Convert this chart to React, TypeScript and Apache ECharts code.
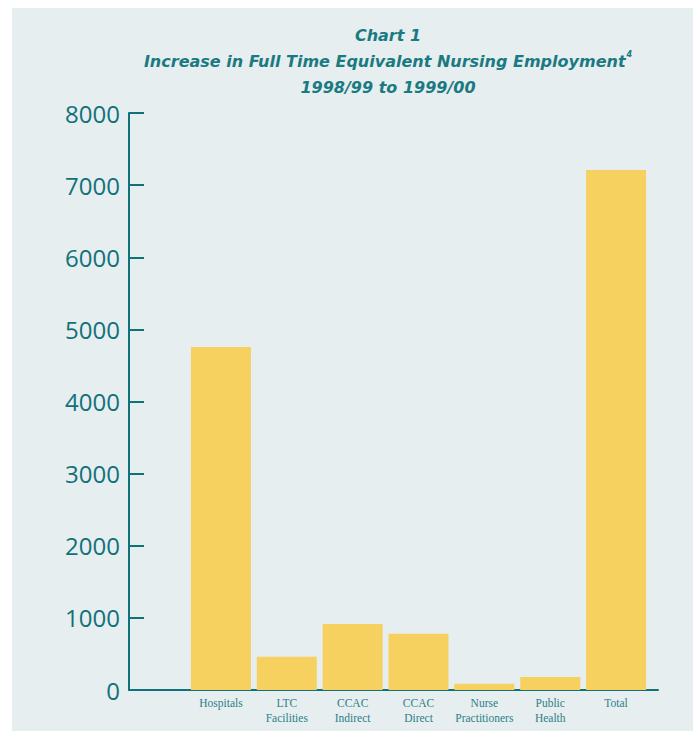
import React, { useEffect, useRef } from "react";
import * as echarts from "echarts";

// Increase in FTE nursing employment by sector, 1998/99 to 1999/00
const categories = [
  "Hospitals",
  "LTC\nFacilities",
  "CCAC\nIndirect",
  "CCAC\nDirect",
  "Nurse\nPractitioners",
  "Public\nHealth",
  "Total",
];
const increases = [4755, 460, 915, 780, 85, 180, 7210];
const yTicks = { min: 0, max: 8000, interval: 1000 };

const TEAL = "#11717a";
const LABEL_TEAL = "#2d8089";
const BAR = "#f6d160";
const PANEL = "#e6eef0";

export default function App() {
  const ref = useRef<HTMLDivElement>(null);

  useEffect(() => {
    if (!ref.current) return;
    const chart = echarts.init(ref.current, undefined, { renderer: "svg" });
    const titleText = {
      fontFamily: "DejaVu Sans",
      fontStyle: "italic",
      fontWeight: "bold",
      fontSize: 16,
      fill: "#1b7a81",
      lineHeight: 26,
    };
    chart.setOption({
      animation: false,
      backgroundColor: PANEL,
      graphic: [
        {
          type: "text",
          x: 376,
          y: 14,
          style: {
            text:
              "{t|Chart 1}\n{t|Increase in Full Time Equivalent Nursing Employment}{sup|4}\n{t|1998/99 to 1999/00}",
            align: "center",
            verticalAlign: "top",
            rich: {
              t: titleText,
              sup: {
                ...titleText,
                fontSize: 8,
                verticalAlign: "top",
                padding: [2, 0, 0, 1],
              },
            },
          },
        },
      ],
      grid: [
        // frame grid carrying the two axis lines
        { left: 117, right: 35, top: 105, bottom: 41 },
        // bar grid
        { left: 176, right: 44, top: 105, bottom: 41 },
      ],
      xAxis: [
        {
          type: "value",
          gridIndex: 0,
          min: 0,
          max: 1,
          axisLine: { show: true, onZero: false, lineStyle: { color: TEAL, width: 2 } },
          axisTick: { show: false },
          axisLabel: { show: false },
          splitLine: { show: false },
        },
        {
          type: "category",
          gridIndex: 1,
          data: categories,
          axisLine: { show: false },
          axisTick: { show: false },
          axisLabel: {
            color: LABEL_TEAL,
            fontFamily: "Liberation Serif",
            fontSize: 11.5,
            lineHeight: 15,
            margin: 5,
            interval: 0,
          },
        },
      ],
      yAxis: [
        {
          type: "value",
          gridIndex: 0,
          min: yTicks.min,
          max: yTicks.max,
          interval: yTicks.interval,
          axisLine: { show: true, lineStyle: { color: TEAL, width: 2 } },
          axisTick: { show: true, inside: true, length: 15, lineStyle: { color: TEAL, width: 2 } },
          axisLabel: {
            color: TEAL,
            fontFamily: "Open Sans",
            fontSize: 24,
            margin: 9,
            formatter: (v: number) => String(v),
          },
          splitLine: { show: false },
        },
        {
          type: "value",
          gridIndex: 1,
          min: yTicks.min,
          max: yTicks.max,
          show: false,
        },
      ],
      series: [
        {
          type: "bar",
          xAxisIndex: 1,
          yAxisIndex: 1,
          data: increases,
          barWidth: 60,
          itemStyle: { color: BAR },
          z: 1,
        },
      ],
    });
    return () => chart.dispose();
  }, []);

  return (
    <div
      ref={ref}
      style={{ position: "fixed", left: 12, top: 8, width: 681, height: 723 }}
    />
  );
}
